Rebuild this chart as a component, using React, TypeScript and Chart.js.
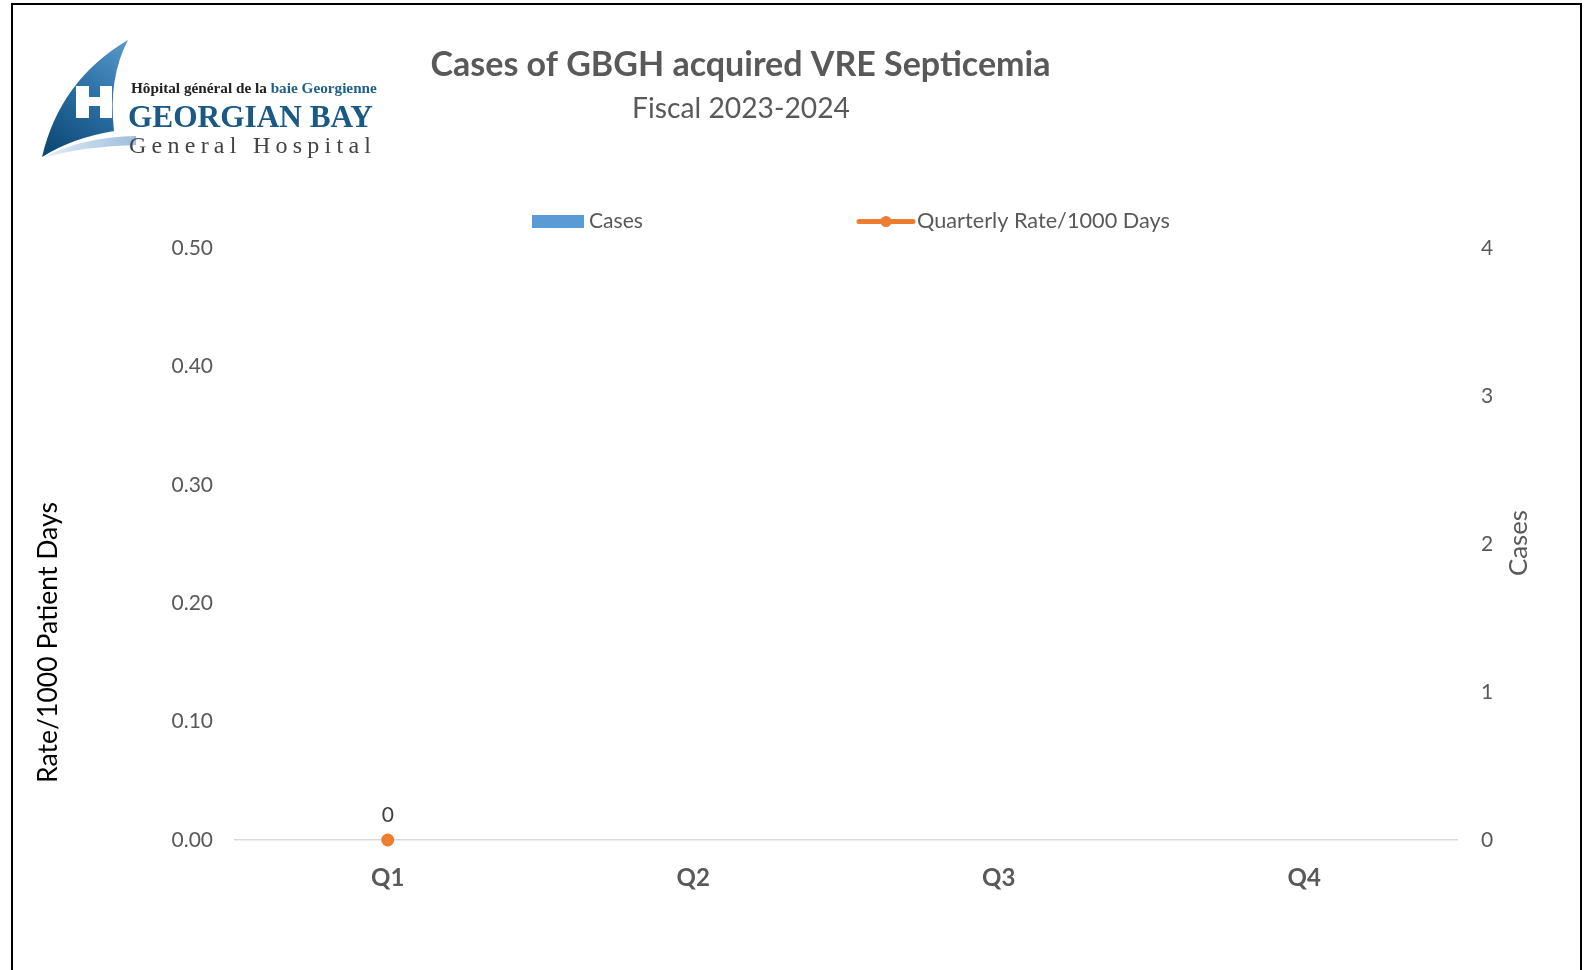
import React, { useEffect, useRef } from "react";
import { Chart, registerables } from "chart.js";

Chart.register(...registerables);

const categories = ["Q1", "Q2", "Q3", "Q4"];
const casesValues: (number | null)[] = [0, null, null, null];
const rateValues: (number | null)[] = [0, null, null, null];
const rateAxis = { min: 0, max: 0.5, step: 0.1 };
const casesAxis = { min: 0, max: 4, step: 1 };
const titleText = "Cases of GBGH acquired VRE Septicemia";
const subtitleText = "Fiscal 2023-2024";
const leftAxisTitle = "Rate/1000 Patient Days";
const rightAxisTitle = "Cases";
const casesLabel = "Cases";
const rateLabel = "Quarterly Rate/1000 Days";
const logoLine1a = "Hôpital général de la ";
const logoLine1b = "baie Georgienne";
const logoLine2 = "GEORGIAN BAY";
const logoLine3 = "General Hospital";

const FONT = "Lato, 'Open Sans', sans-serif";
const SERIF = "'Liberation Serif', 'DejaVu Serif', serif";
const GRAY = "#595959";
const BLUE = "#5b9bd5";
const ORANGE = "#ed7d31";

function fitSize(ctx: CanvasRenderingContext2D, text: string, weight: string, family: string, target: number) {
  ctx.font = `${weight} 100px ${family}`;
  const w = ctx.measureText(text).width;
  return (100 * target) / w;
}

function drawFitted(
  ctx: CanvasRenderingContext2D,
  text: string,
  weight: string,
  family: string,
  target: number,
  x: number,
  y: number,
  align: CanvasTextAlign,
  color: string
) {
  const size = fitSize(ctx, text, weight, family, target);
  ctx.font = `${weight} ${size}px ${family}`;
  ctx.fillStyle = color;
  ctx.textAlign = align;
  ctx.textBaseline = "middle";
  ctx.fillText(text, x, y);
}

function drawLogo(ctx: CanvasRenderingContext2D) {
  ctx.save();
  // sail
  const g = ctx.createLinearGradient(125, 45, 45, 150);
  g.addColorStop(0, "#5696c6");
  g.addColorStop(0.45, "#2c70a5");
  g.addColorStop(1, "#0d4876");
  ctx.fillStyle = g;
  ctx.beginPath();
  ctx.moveTo(128, 40);
  ctx.quadraticCurveTo(60, 80, 42, 157);
  ctx.quadraticCurveTo(72, 138, 114, 131);
  ctx.quadraticCurveTo(108, 78, 128, 40);
  ctx.closePath();
  ctx.fill();
  // swoosh
  const g2 = ctx.createLinearGradient(43, 155, 135, 138);
  g2.addColorStop(0, "#e6eff7");
  g2.addColorStop(1, "#9dbfdc");
  ctx.fillStyle = g2;
  ctx.beginPath();
  ctx.moveTo(42, 158);
  ctx.quadraticCurveTo(82, 137, 136, 136);
  ctx.lineTo(136, 145);
  ctx.quadraticCurveTo(85, 146, 42, 158);
  ctx.closePath();
  ctx.fill();
  // H
  ctx.fillStyle = "#ffffff";
  ctx.fillRect(76, 86, 13, 32);
  ctx.fillRect(100, 86, 12, 32);
  ctx.fillRect(89, 97, 11, 9);
  // texts
  ctx.textBaseline = "alphabetic";
  ctx.textAlign = "left";
  const s1 = fitSize(ctx, logoLine1a + logoLine1b, "bold", SERIF, 246);
  ctx.font = `bold ${s1}px ${SERIF}`;
  ctx.fillStyle = "#222222";
  ctx.fillText(logoLine1a, 131, 93);
  const w1 = ctx.measureText(logoLine1a).width;
  ctx.fillStyle = "#1f5f8c";
  ctx.fillText(logoLine1b, 131 + w1, 93);
  const s2 = fitSize(ctx, logoLine2, "bold", SERIF, 245);
  ctx.font = `bold ${s2}px ${SERIF}`;
  ctx.fillStyle = "#1a5886";
  ctx.fillText(logoLine2, 128, 127);
  ctx.font = `normal 24px ${SERIF}`;
  (ctx as any).letterSpacing = "0px";
  const w3 = ctx.measureText(logoLine3).width;
  const ls = (242 - w3) / (logoLine3.length - 1);
  (ctx as any).letterSpacing = `${ls}px`;
  ctx.fillStyle = "#444444";
  ctx.fillText(logoLine3, 129, 153);
  (ctx as any).letterSpacing = "0px";
  ctx.restore();
}

const decorPlugin = {
  id: "decor",
  afterDatasetsDraw(chart: any) {
    const ctx: CanvasRenderingContext2D = chart.ctx;
    ctx.save();
    // data labels for rate
    const meta = chart.getDatasetMeta(1);
    ctx.font = `normal 21px ${FONT}`;
    ctx.fillStyle = "#404040";
    ctx.textAlign = "center";
    ctx.textBaseline = "middle";
    rateValues.forEach((v, i) => {
      if (v === null) return;
      const el = meta.data[i];
      ctx.fillText(String(v), el.x, el.y - 25);
    });
    ctx.restore();
  },
  afterDraw(chart: any) {
    const ctx: CanvasRenderingContext2D = chart.ctx;
    ctx.save();
    // title & subtitle
    drawFitted(ctx, titleText, "bold", FONT, 620, 740.5, 65, "center", GRAY);
    drawFitted(ctx, subtitleText, "normal", FONT, 218, 741, 109, "center", GRAY);
    // legend
    ctx.fillStyle = BLUE;
    ctx.fillRect(532, 215, 52, 13);
    drawFitted(ctx, casesLabel, "normal", FONT, 54, 589, 221, "left", GRAY);
    ctx.strokeStyle = ORANGE;
    ctx.lineWidth = 5;
    ctx.lineCap = "round";
    ctx.beginPath();
    ctx.moveTo(859, 221.5);
    ctx.lineTo(913, 221.5);
    ctx.stroke();
    ctx.fillStyle = ORANGE;
    ctx.beginPath();
    ctx.arc(886, 221.5, 5.5, 0, Math.PI * 2);
    ctx.fill();
    drawFitted(ctx, rateLabel, "normal", FONT, 253, 917, 221, "left", GRAY);
    // axis titles
    ctx.save();
    ctx.translate(48.5, 642.5);
    ctx.rotate(-Math.PI / 2);
    drawFitted(ctx, leftAxisTitle, "normal", FONT, 281, 0, 0, "center", "#000000");
    ctx.restore();
    ctx.save();
    ctx.translate(1519, 543);
    ctx.rotate(-Math.PI / 2);
    drawFitted(ctx, rightAxisTitle, "normal", FONT, 66, 0, 0, "center", GRAY);
    ctx.restore();
    drawLogo(ctx);
    ctx.restore();
  },
};

export default function App() {
  const ref = useRef<HTMLCanvasElement | null>(null);
  useEffect(() => {
    if (!ref.current) return;
    const chart = new Chart(ref.current, {
      type: "bar",
      data: {
        labels: categories,
        datasets: [
          {
            type: "bar",
            label: casesLabel,
            data: casesValues,
            backgroundColor: BLUE,
            borderWidth: 0,
            yAxisID: "yCases",
            order: 2,
          } as any,
          {
            type: "line",
            label: rateLabel,
            data: rateValues,
            borderColor: ORANGE,
            backgroundColor: ORANGE,
            borderWidth: 4.5,
            pointRadius: 6.5,
            pointBorderWidth: 0,
            pointBackgroundColor: ORANGE,
            yAxisID: "yRate",
            order: 1,
            clip: false,
          } as any,
        ],
      },
      options: {
        responsive: false,
        animation: false,
        layout: { padding: { top: 248, left: 0, right: 0, bottom: 0 } },
        plugins: {
          legend: { display: false },
          title: { display: false },
          tooltip: { enabled: false },
        },
        scales: {
          x: {
            grid: { display: false, drawTicks: false },
            border: { display: true, color: "#d9d9d9", width: 1.5 },
            ticks: {
              color: GRAY,
              font: { family: FONT, size: 24, weight: "bold" },
              padding: 24,
            },
            afterFit: (s: any) => {
              s.height = 970 - 840;
            },
          },
          yRate: {
            type: "linear",
            position: "left",
            min: rateAxis.min,
            max: rateAxis.max,
            grid: { display: false, drawTicks: false },
            border: { display: false },
            ticks: {
              stepSize: rateAxis.step,
              color: GRAY,
              font: { family: FONT, size: 21 },
              padding: 22,
              callback: (v: any) => Number(v).toFixed(2),
            },
            afterFit: (s: any) => {
              s.width = 235;
            },
          },
          yCases: {
            type: "linear",
            position: "right",
            min: casesAxis.min,
            max: casesAxis.max,
            grid: { display: false, drawTicks: false },
            border: { display: false },
            ticks: {
              stepSize: casesAxis.step,
              color: GRAY,
              font: { family: FONT, size: 21 },
              padding: 24,
            },
            afterFit: (s: any) => {
              s.width = 1584 - 1457;
            },
          },
        },
      } as any,
      plugins: [decorPlugin],
    });
    return () => chart.destroy();
  }, []);

  return (
    <div style={{ position: "fixed", left: 0, top: 0, width: 1584, height: 970, background: "#ffffff", overflow: "hidden" }}>
      <canvas ref={ref} width={1584} height={970} style={{ position: "absolute", left: 0, top: 0 }} />
      <div
        style={{
          position: "absolute",
          left: 11,
          top: 3,
          width: 1567,
          height: 1000,
          border: "2px solid #000000",
          pointerEvents: "none",
        }}
      />
    </div>
  );
}
